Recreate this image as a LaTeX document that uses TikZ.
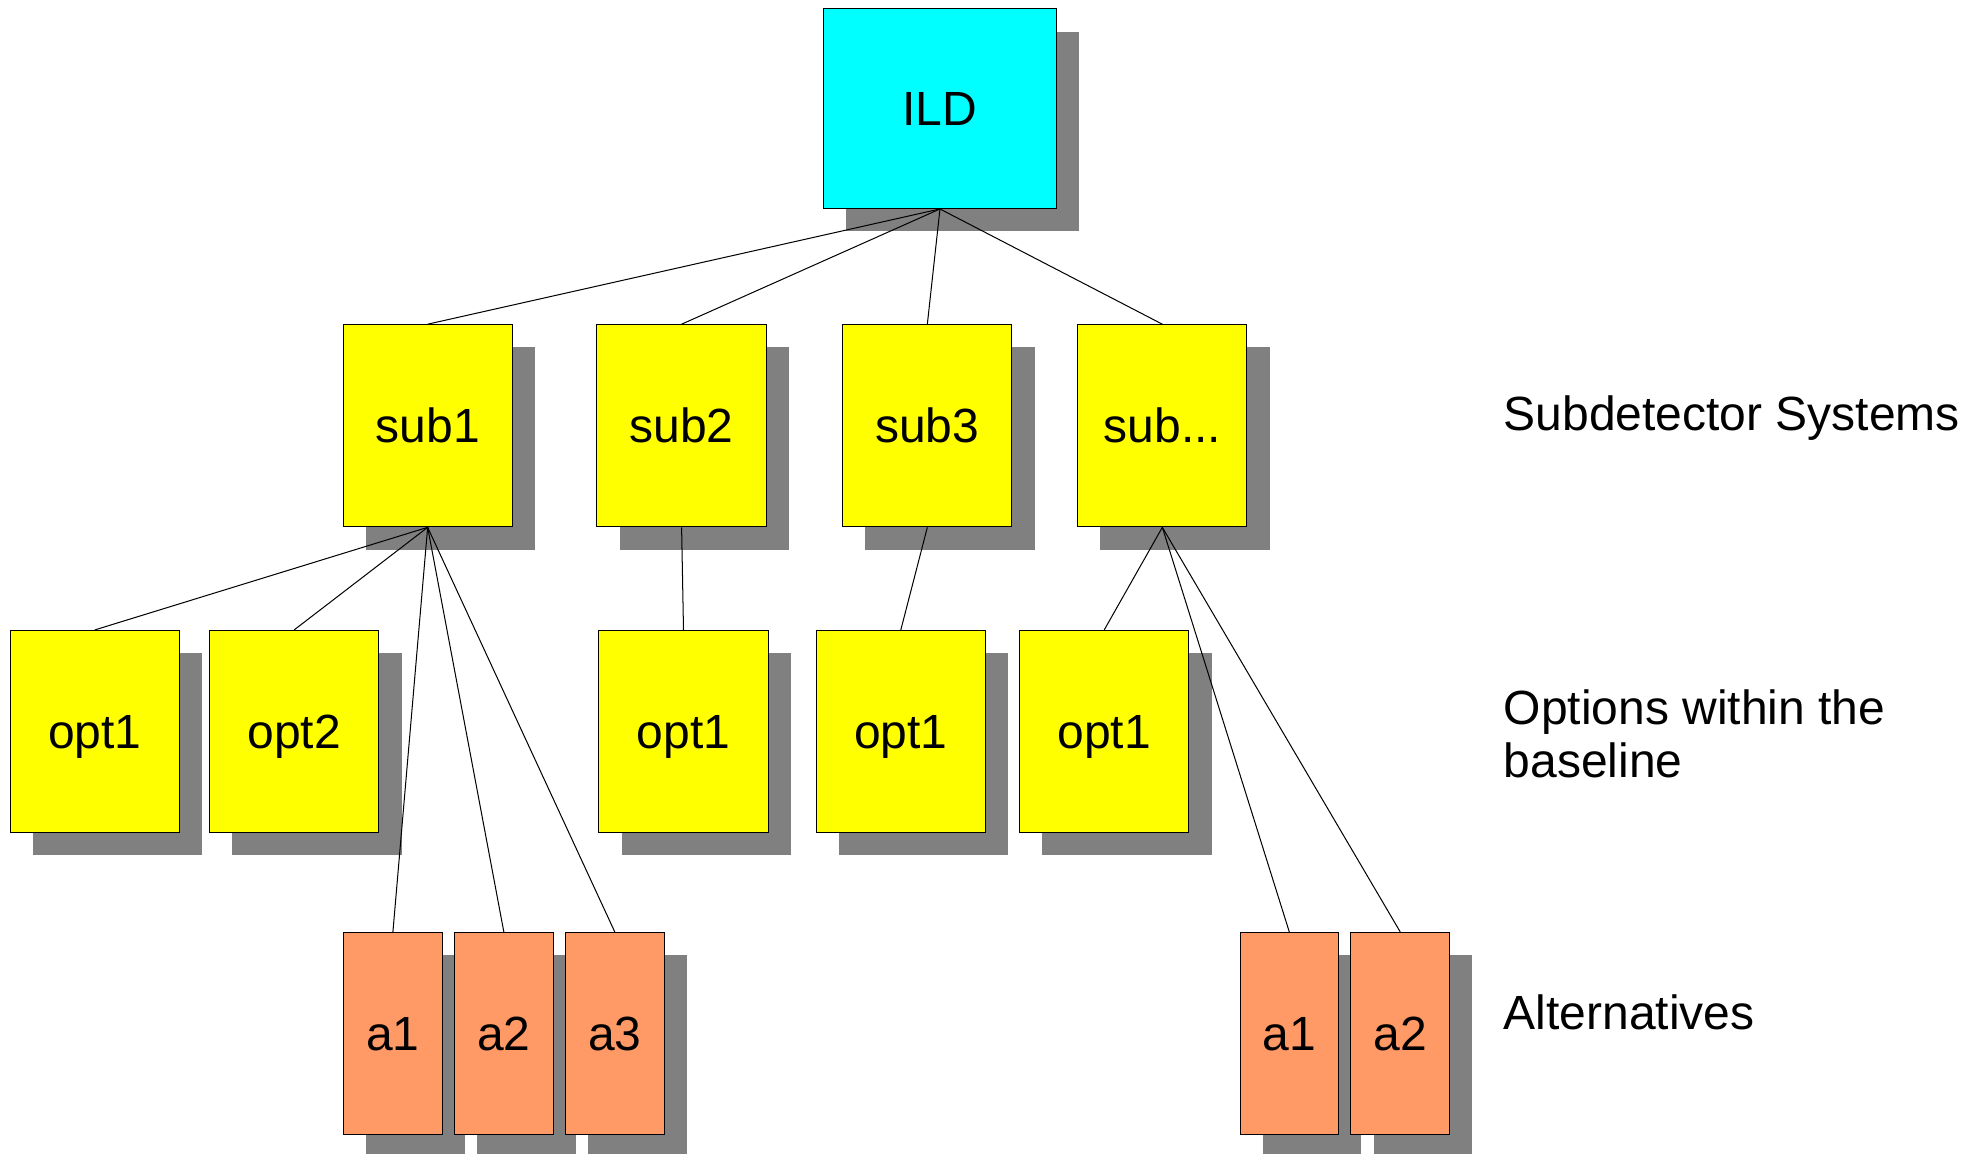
\documentclass[tikz,border=0pt]{standalone}
\usepackage{fontspec}
\setmainfont{Liberation Sans}
\usetikzlibrary{positioning,shadows}
\definecolor{ildcyan}{RGB}{0,255,255}
\definecolor{subyellow}{RGB}{255,255,0}
\definecolor{altorange}{RGB}{255,153,102}
\definecolor{shadowgray}{RGB}{128,128,128}
\tikzset{
    box/.style={draw, line width=0.8pt, inner sep=0pt, minimum width=134pt, minimum height=160pt,
        font=\fontsize{38}{44}\selectfont, text height=27.2pt, text depth=0pt,
        drop shadow={shadow xshift=18pt, shadow yshift=-18pt, fill=shadowgray, opacity=1}},
    subbox/.style={box, fill=subyellow},
    altbox/.style={box, fill=altorange, minimum width=78pt},
    link/.style={line width=0.8pt},
    rowlabel/.style={anchor=west, align=left, inner sep=0pt, font=\fontsize{38}{42}\selectfont}
}
\begin{document}
\begin{tikzpicture}[x=1pt, y=-1pt]
    \useasboundingbox (0,0) rectangle (1568,913);

    % top
    \node[box, fill=ildcyan, minimum width=184pt, minimum height=158pt] (ild) at (744,86) {ILD};

    % subdetectors
    \node[subbox] (sub1) at (338.5,337) {sub1};
    \node[subbox] (sub2) at (539.5,337) {sub2};
    \node[subbox] (sub3) at (734,337) {sub3};
    \node[subbox] (subx) at (920,337) {sub...};

    % options
    \node[subbox] (opt1a) at (75,579) {opt1};
    \node[subbox, right=23pt of opt1a] (opt2a) {opt2};
    \node[subbox] (opt1b) at (541,579) {opt1};
    \node[subbox] (opt1c) at (713,579) {opt1};
    \node[subbox] (opt1x) at (874,579) {opt1};

    % alternatives
    \node[altbox] (alt1a) at (311,818) {a1};
    \node[altbox, right=9pt of alt1a] (alt2a) {a2};
    \node[altbox, right=9pt of alt2a] (alt3a) {a3};
    \node[altbox] (alt1x) at (1020.5,818) {a1};
    \node[altbox, right=9pt of alt1x] (alt2x) {a2};

    % row labels
    \node[rowlabel] (lblsub) at (1190,331) {Subdetector Systems};
    \node[rowlabel] (lblopt) at (1190,581) {Options within the\\baseline};
    \node[rowlabel] (lblalt) at (1190,801) {Alternatives};

    % links
    \foreach \s in {sub1,sub2,sub3,subx}
        \draw[link] (ild.south) -- (\s.north);
    \foreach \c in {opt1a,opt2a,alt1a,alt2a,alt3a}
        \draw[link] (sub1.south) -- (\c.north);
    \draw[link] (sub2.south) -- (opt1b.north);
    \draw[link] (sub3.south) -- (opt1c.north);
    \foreach \c in {opt1x,alt1x,alt2x}
        \draw[link] (subx.south) -- (\c.north);
\end{tikzpicture}
\end{document}
